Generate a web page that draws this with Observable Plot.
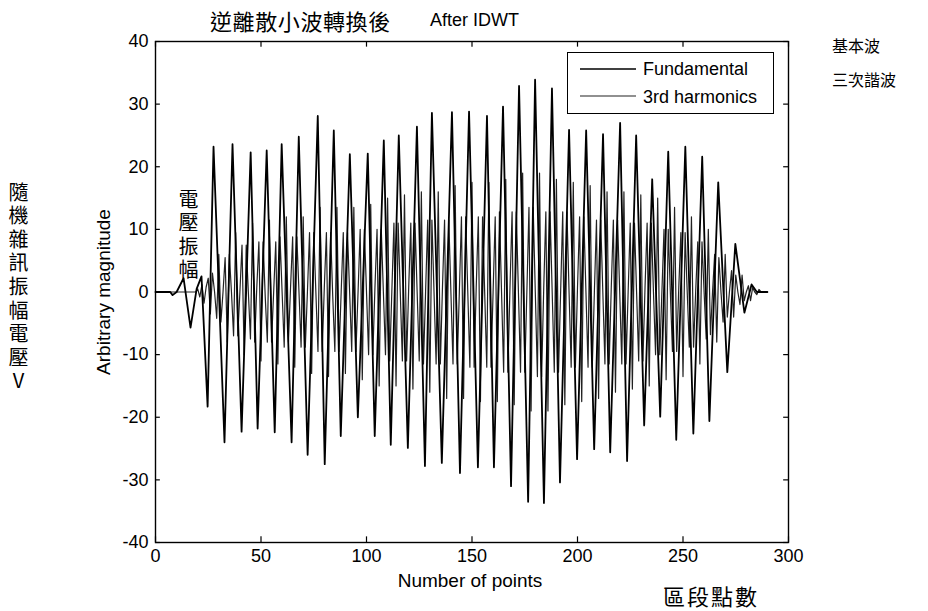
<!DOCTYPE html>
<html><head><meta charset="utf-8">
<script src="https://cdn.jsdelivr.net/npm/d3@7"></script>
<script src="https://cdn.jsdelivr.net/npm/@observablehq/plot@0.6"></script>
<style>
body{margin:0;background:#fff;}
#wrap{position:relative;width:928px;height:611px;overflow:hidden;font-family:"Liberation Sans",Arial,sans-serif;background:#fff;}
#wrap svg{position:absolute;left:0;top:0;}
.t{position:absolute;white-space:nowrap;color:#000;line-height:1;}
.cjk{font-family:"Noto Sans CJK TC","Noto Sans CJK SC",sans-serif;}
.vert{writing-mode:vertical-rl;text-orientation:upright;line-height:1;}
#legend{position:absolute;left:567px;top:52px;width:205px;height:60px;border:1.3px solid #000;background:#fff;}
</style></head><body><div id="wrap"></div><script>
// ---- data ----
const xTicks = [0, 50, 100, 150, 200, 250, 300];
const yTicks = [-40, -30, -20, -10, 0, 10, 20, 30, 40];

// Fundamental: vertices (peaks / troughs)
const fundX = [0,7,8.1,10,13.3,16.6,19.5,21.8,24.7,27.5,32.7,36.5,40.8,45.1,48.4,52.7,56.5,59.8,64.5,67.9,72.1,76.9,80.2,84.5,87.8,92.1,95.9,100.6,103.9,108.2,111.5,115.3,119.6,123.9,127.7,131,135.7,140.5,144.3,148.6,152.8,157.1,160.4,164.7,168.5,172.3,176.6,179.9,184.1,187.9,191.7,196,199.8,204.1,207.9,212.1,215.5,220.2,223.5,227.8,231.6,235.4,239.2,243,246.8,251.1,254.9,259.1,262.5,266.7,271,274.8,279.1,282.5,285,290];
const fundY = [0,0,-0.5,0,2.2,-5.7,0.5,2.5,-18.3,23.2,-24,23.6,-22.3,22.3,-21.8,22.6,-22.4,23.6,-24,24.8,-26,28.1,-27.5,25.8,-23,22,-20,22.1,-23,24.2,-24.4,25,-24.9,26.4,-27.8,28.6,-27.3,28.7,-28.9,28.8,-28,28.1,-28,29.6,-31,32.9,-33.5,33.9,-33.7,32.5,-30.4,25.9,-26.7,25.8,-25.1,25.2,-25.6,27,-27,25,-21.3,18,-19.9,22.4,-23.6,23.2,-22.6,21.6,-20.6,17.5,-12.8,7.7,-3.3,1.2,0,0];

// 3rd harmonics: one value per point (index = point number 0..290)
const harmY = [
0,0,0,0,0,0,0,0,
0,0,0,0,0,0,0,0,
0,0,0,0,0.5,-0.8,1.2,-1.8,
0.8,2.2,-3.5,3,0,-4.2,6,-4.8,
0,5.5,-8,6,0,-7,9.5,-7,
0,7.5,-10,7.5,0,-7.5,11,-8,
0.7,8,-11,8,-0.7,-8,11.5,-8,
0,8,-11.5,8.8,0,-8.8,12,-8,
0.7,8.8,-12,8.8,0,-8.8,12,-8.8,
0,9.5,-13,9.5,0,-9.5,13.5,-9.5,
0.7,9.5,-13.5,9.5,-0.7,-9.5,13.5,-9.5,
0,9.5,-13,9.5,0,-9.5,13.5,-9.5,
0,10,-14,10,0,-10,14,-10,
0.7,10,-15,10,0,-10,15,-11,
0,11,-15,11,0,-11,15.5,-11,
0.7,11,-15.5,11,0,-11,16,-11.5,
0,11.5,-16,11.5,0,-11.5,16,-11.5,
0.7,11.5,-17,11.5,0,-11.5,17,-11.5,
0,12,-17,12,0,-12,17.5,-12,
0.7,12,-17.5,12,0,-12,17.5,-12,
0,12,-17.5,12.8,0,-12.8,18,-12.8,
0.7,12.8,-18,12.8,0,-12.8,19,-12.8,
0,13.5,-19,13.5,0,-13.5,19,-13.5,
0.7,12.8,-19,12.8,0,-12.8,18,-12.8,
0,12.8,-18,12.8,0,-12,17.5,-12,
0.7,12,-17.5,12,0,-12,17,-12,
0,11.5,-17,11.5,0,-11.5,16,-11.5,
0.7,11.5,-16,11.5,0,-11.5,16,-11.5,
0,11,-15.5,11,0,-11,15.5,-11,
0.7,11,-15,11,0,-10,15,-10,
0,10,-14,10,0,-9.5,13.5,-9.5,
0.7,9.5,-13.5,9.5,0,-8.8,12,-8.8,
0,8,-11.5,8,0,-7.5,10,-6.8,
0,6,-8,5.5,0,-4.8,6,-4,
0,3.4,-4,2.7,0,-2,2.7,-1.4,
0,1,-1.4,0.7,0,-0.4,0.4,0,
0,0,0
];

// ---- tables ----
const fund = fundX.map((x, i) => ({x, y: fundY[i]}));
const harm = harmY.map((y, i) => ({x: i, y}));

const fmt = d => String(d);
const chart = Plot.plot({
  width: 928, height: 611,
  marginLeft: 155, marginRight: 140, marginTop: 41, marginBottom: 69,
  x: {domain: [0, 300]},
  y: {domain: [-40, 40]},
  style: {fontFamily: '"Liberation Sans", Arial, sans-serif', fontSize: "18px", background: "#fff", color: "#000"},
  marks: [
    Plot.line(harm, {x: "x", y: "y", stroke: "#222", strokeWidth: 1.2}),
    Plot.line(fund, {x: "x", y: "y", stroke: "#000", strokeWidth: 1.8}),
    Plot.frame({stroke: "#000", strokeWidth: 1.4}),
    Plot.ruleX(xTicks, {x: d => d, y1: -40, y2: -39.1, stroke: "#000", strokeWidth: 1.2}),
    Plot.ruleX(xTicks, {x: d => d, y1: 40, y2: 39.1, stroke: "#000", strokeWidth: 1.2}),
    Plot.ruleY(yTicks, {y: d => d, x1: 0, x2: 2.3, stroke: "#000", strokeWidth: 1.2}),
    Plot.ruleY(yTicks, {y: d => d, x1: 300, x2: 297.7, stroke: "#000", strokeWidth: 1.2}),
    Plot.axisX({ticks: xTicks, tickSize: 0, tickPadding: 7, label: null, tickFormat: fmt, fontSize: 18}),
    Plot.axisY({ticks: yTicks, tickSize: 0, tickPadding: 7, label: null, tickFormat: fmt, fontSize: 18})
  ]
});

const wrap = document.getElementById("wrap");
wrap.appendChild(chart);

function addText(html, css, cls) {
  const d = document.createElement("div");
  d.className = "t " + (cls || "");
  d.innerHTML = html;
  Object.assign(d.style, css);
  wrap.appendChild(d);
  return d;
}
// titles & labels
addText("逆離散小波轉換後", {left: "210px", top: "9px", fontSize: "22px", letterSpacing: "0.6px"}, "cjk");
addText("After IDWT", {left: "430px", top: "11px", fontSize: "18px"});
addText("Arbitrary magnitude", {left: "103px", top: "292px", fontSize: "19px", transform: "translate(-50%,-50%) rotate(-90deg)"});
addText("Number of points", {left: "470px", top: "580px", fontSize: "19px", transform: "translate(-50%,-50%)"});
addText("區段點數", {left: "663px", top: "584px", fontSize: "22px", letterSpacing: "2px"}, "cjk");
addText("基本波", {left: "832px", top: "37px", fontSize: "16px"}, "cjk");
addText("三次諧波", {left: "832px", top: "71px", fontSize: "16px"}, "cjk");
addText("隨機雜訊振幅電壓V", {left: "8px", top: "182px", fontSize: "20px", letterSpacing: "3.6px"}, "cjk vert");
addText("電壓振幅", {left: "178px", top: "189px", fontSize: "20px", letterSpacing: "3.5px"}, "cjk vert");

// legend
const lg = document.createElement("div");
lg.id = "legend";
lg.innerHTML = `
<svg width="205" height="60" style="position:absolute;left:0;top:0">
  <line x1="12" x2="68" y1="16" y2="16" stroke="#000" stroke-width="1.3"/>
  <line x1="12" x2="68" y1="43" y2="43" stroke="#222" stroke-width="1.2"/>
</svg>
<div class="t" style="left:75px;top:7px;font-size:18px">Fundamental</div>
<div class="t" style="left:75px;top:35px;font-size:18px">3rd harmonics</div>`;
wrap.appendChild(lg);
</script></body></html>
